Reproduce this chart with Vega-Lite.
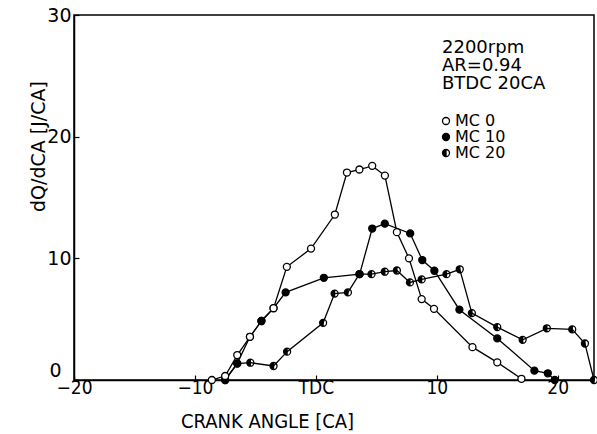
{
  "$schema": "https://vega.github.io/schema/vega-lite/v6.json",
  "width": 520,
  "height": 365,
  "autosize": "none",
  "padding": {"left": 74, "top": 15, "right": 3, "bottom": 54},
  "background": "white",
  "config": {
    "view": {"stroke": "black", "strokeWidth": 1.5},
    "font": "DejaVu Sans",
    "legend": {
      "orient": "none", "legendX": 368, "legendY": 24,
      "titleFont": "DejaVu Sans", "titleFontSize": 18, "titleFontWeight": "normal", "titleColor": "black",
      "titleLineHeight": 18, "titlePadding": 20,
      "labelFont": "DejaVu Sans", "labelFontSize": 16, "labelColor": "black",
      "symbolSize": 49, "symbolStrokeWidth": 1.3,
      "symbolOffset": -4, "rowPadding": 0, "labelOffset": 1
    }
  },
  "data": {
    "values": [
      {"series": "MC 20", "ca": -7.5, "dq": 0},
      {"series": "MC 20", "ca": -6.5, "dq": 1.35},
      {"series": "MC 20", "ca": -5.42, "dq": 1.42},
      {"series": "MC 20", "ca": -3.5, "dq": 1.15},
      {"series": "MC 20", "ca": -2.38, "dq": 2.33},
      {"series": "MC 20", "ca": 0.6, "dq": 4.7},
      {"series": "MC 20", "ca": 1.55, "dq": 7.1},
      {"series": "MC 20", "ca": 2.65, "dq": 7.2},
      {"series": "MC 20", "ca": 3.6, "dq": 8.7},
      {"series": "MC 20", "ca": 4.6, "dq": 8.7},
      {"series": "MC 20", "ca": 5.7, "dq": 8.9},
      {"series": "MC 20", "ca": 6.7, "dq": 9.0},
      {"series": "MC 20", "ca": 7.78, "dq": 8.02},
      {"series": "MC 20", "ca": 8.75, "dq": 8.27},
      {"series": "MC 20", "ca": 10.8, "dq": 8.7},
      {"series": "MC 20", "ca": 11.9, "dq": 9.1},
      {"series": "MC 20", "ca": 12.9, "dq": 5.5},
      {"series": "MC 20", "ca": 15.0, "dq": 4.35},
      {"series": "MC 20", "ca": 17.1, "dq": 3.3},
      {"series": "MC 20", "ca": 19.1, "dq": 4.25},
      {"series": "MC 20", "ca": 21.2, "dq": 4.16},
      {"series": "MC 20", "ca": 22.25, "dq": 3.0},
      {"series": "MC 20", "ca": 23.0, "dq": 0},
      {"series": "MC 10", "ca": -7.5, "dq": 0},
      {"series": "MC 10", "ca": -6.5, "dq": 1.37},
      {"series": "MC 10", "ca": -5.45, "dq": 3.55},
      {"series": "MC 10", "ca": -3.5, "dq": 5.9},
      {"series": "MC 10", "ca": -2.5, "dq": 7.2},
      {"series": "MC 10", "ca": 0.66, "dq": 8.4},
      {"series": "MC 10", "ca": 3.62, "dq": 8.7},
      {"series": "MC 10", "ca": 4.66, "dq": 12.45},
      {"series": "MC 10", "ca": 5.7, "dq": 12.85},
      {"series": "MC 10", "ca": 7.8, "dq": 12.05},
      {"series": "MC 10", "ca": 8.8, "dq": 9.86},
      {"series": "MC 10", "ca": 9.8, "dq": 8.98},
      {"series": "MC 10", "ca": 11.87, "dq": 5.78},
      {"series": "MC 10", "ca": 15.0, "dq": 3.42},
      {"series": "MC 10", "ca": 18.07, "dq": 0.77},
      {"series": "MC 10", "ca": 19.18, "dq": 0.55},
      {"series": "MC 10", "ca": 19.75, "dq": 0},
      {"series": "MC 0", "ca": -8.6, "dq": 0},
      {"series": "MC 0", "ca": -7.5, "dq": 0.33},
      {"series": "MC 0", "ca": -6.5, "dq": 2.05},
      {"series": "MC 0", "ca": -5.45, "dq": 3.55},
      {"series": "MC 0", "ca": -4.5, "dq": 4.85},
      {"series": "MC 0", "ca": -3.5, "dq": 5.9},
      {"series": "MC 0", "ca": -2.4, "dq": 9.3},
      {"series": "MC 0", "ca": -0.4, "dq": 10.8},
      {"series": "MC 0", "ca": 1.57, "dq": 13.6},
      {"series": "MC 0", "ca": 2.57, "dq": 17.05},
      {"series": "MC 0", "ca": 3.6, "dq": 17.3},
      {"series": "MC 0", "ca": 4.66, "dq": 17.6},
      {"series": "MC 0", "ca": 5.71, "dq": 16.8},
      {"series": "MC 0", "ca": 6.7, "dq": 12.15},
      {"series": "MC 0", "ca": 7.7, "dq": 10.0},
      {"series": "MC 0", "ca": 8.75, "dq": 6.65},
      {"series": "MC 0", "ca": 9.77, "dq": 5.85},
      {"series": "MC 0", "ca": 12.95, "dq": 2.7},
      {"series": "MC 0", "ca": 15.0, "dq": 1.45},
      {"series": "MC 0", "ca": 17.0, "dq": 0.1},
      {"series": "MC 10", "ca": -4.5, "dq": 4.85}
    ]
  },
  "encoding": {
    "x": {
      "field": "ca", "type": "quantitative",
      "scale": {"domain": [-20, 23], "nice": false, "zero": false},
      "axis": {
        "values": [-20, -10, 0, 10, 20],
        "labelExpr": "datum.value == 0 ? 'TDC' : datum.label",
        "grid": false,
        "domainColor": "black", "domainWidth": 1.5,
        "tickColor": "black", "tickSize": -5, "tickWidth": 1.2,
        "labelFont": "DejaVu Sans Condensed, DejaVu Sans", "labelFontSize": 19, "labelColor": "black",
        "labelPadding": 3, "labelFlush": false,
        "title": "CRANK ANGLE [CA]",
        "titleFont": "DejaVu Sans Condensed, DejaVu Sans", "titleFontSize": 20, "titleFontWeight": "normal", "titleColor": "black",
        "titleX": 193, "titleY": 41, "titleAlign": "center", "titleBaseline": "middle", "titleAngle": 0
      }
    },
    "y": {
      "field": "dq", "type": "quantitative",
      "scale": {"domain": [0, 30], "nice": false},
      "axis": {
        "values": [0, 10, 20, 30],
        "grid": false,
        "domainColor": "black", "domainWidth": 1.5,
        "tickColor": "black", "tickSize": -5, "tickWidth": 1.2,
        "labelFont": "DejaVu Sans", "labelFontSize": 19, "labelColor": "black",
        "labelPadding": {"condition": {"test": "datum.value == 0", "value": 18}, "value": 8},
        "labelFlush": false,
        "labelBaseline": {"condition": {"test": "datum.value == 0", "value": "bottom"}, "value": "middle"},
        "title": "dQ/dCA [J/CA]",
        "titleFont": "DejaVu Sans", "titleFontSize": 19, "titleFontWeight": "normal", "titleColor": "black",
        "titleX": -36, "titleY": 131, "titleAlign": "center", "titleBaseline": "middle", "titleAngle": -90
      }
    }
  },
  "layer": [
    {
      "mark": {"type": "line", "color": "black", "strokeWidth": 1.3},
      "encoding": {"detail": {"field": "series"}}
    },
    {
      "mark": {"type": "point", "filled": true, "strokeWidth": 1.3, "opacity": 1, "fillOpacity": 1, "strokeOpacity": 1, "size": 49},
      "encoding": {
        "stroke": {
          "field": "series", "type": "nominal",
          "scale": {"domain": ["MC 0", "MC 10", "MC 20"], "range": ["black", "black", "black"]},
          "legend": {"title": ["2200rpm", "AR=0.94", "BTDC 20CA"]}
        },
        "shape": {
          "field": "series", "type": "nominal",
          "scale": {"domain": ["MC 0", "MC 10", "MC 20"], "range": ["circle", "circle", "M0,-1A1,1,0,1,1,0,1A1,1,0,1,1,0,-1ZM0,1A1,1,0,0,0,0,-1Z"]},
          "legend": {"title": ["2200rpm", "AR=0.94", "BTDC 20CA"]}
        },
        "fill": {
          "field": "series", "type": "nominal",
          "scale": {"domain": ["MC 0", "MC 10", "MC 20"], "range": ["white", "black", "black"]},
          "legend": {"title": ["2200rpm", "AR=0.94", "BTDC 20CA"]}
        }
      }
    }
  ]
}
